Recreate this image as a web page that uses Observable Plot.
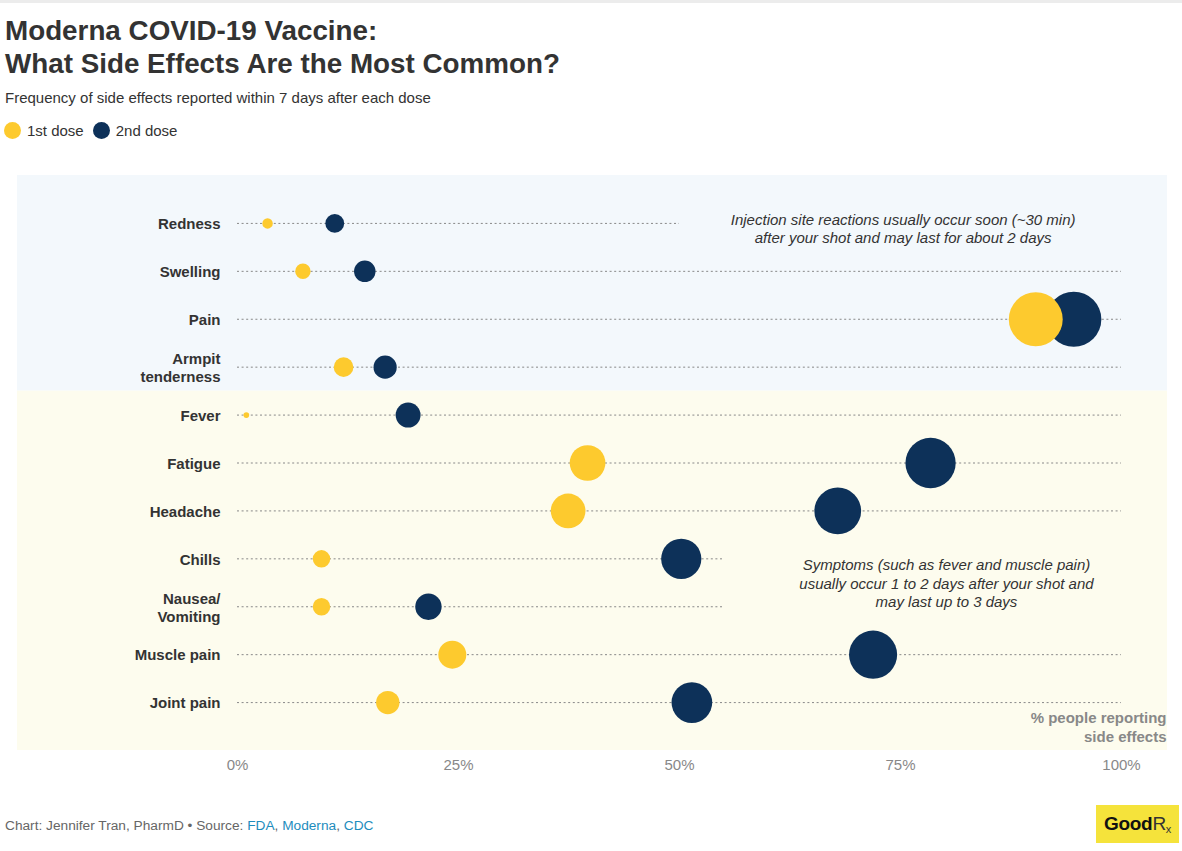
<!DOCTYPE html>
<html><head><meta charset="utf-8">
<script src="https://cdn.jsdelivr.net/npm/d3@7"></script>
<script src="https://cdn.jsdelivr.net/npm/@observablehq/plot@0.6"></script>
<style>
body{margin:0;background:#fff;font-family:"Liberation Sans",Arial,Helvetica,sans-serif;color:#333;}
#wrap{position:relative;width:1182px;height:851px;overflow:hidden;}
#topbar{position:absolute;left:0;top:0;width:1182px;height:3px;background:#ececec;}
#title{position:absolute;left:5px;top:14px;font-size:27.8px;font-weight:bold;line-height:33px;color:#333;white-space:nowrap;}
#sub{position:absolute;left:5px;top:89px;font-size:15px;line-height:18px;color:#333;white-space:nowrap;}
#legend{position:absolute;left:4px;top:121px;height:18px;display:flex;align-items:center;font-size:15px;color:#333;}
#legend .sw{width:17px;height:17px;border-radius:50%;display:inline-block;margin-right:6px;}
#legend .it{display:flex;align-items:center;margin-right:9px;}
#chart{position:absolute;left:0;top:160px;}
#foot{position:absolute;left:5px;top:818px;font-size:13.7px;line-height:16px;color:#666;white-space:nowrap;}
#foot .l{color:#1d8cbd;}
#logo{position:absolute;left:1096px;top:805px;width:83px;height:38px;background:#f5e33b;display:flex;align-items:center;justify-content:center;font-size:19px;font-weight:bold;color:#111;letter-spacing:-0.3px;}
#logo .rx{font-weight:normal;color:#333;}
#logo sub{font-size:11px;vertical-align:-3px;}
</style></head><body>
<div id="wrap">
  <div id="topbar"></div>
  <div id="title">Moderna COVID-19 Vaccine:<br>What Side Effects Are the Most Common?</div>
  <div id="sub">Frequency of side effects reported within 7 days after each dose</div>
  <div id="legend"></div>
  <div id="chart"></div>
  <div id="foot">Chart: Jennifer Tran, PharmD • Source: <span class="l">FDA</span>, <span class="l">Moderna</span>, <span class="l">CDC</span></div>
  <div id="logo">Good<span class="rx">R<sub>x</sub></span></div>
</div>
<script>
// ---- data ----
const names = ["Redness","Swelling","Pain","Armpit tenderness","Fever","Fatigue","Headache","Chills","Nausea/Vomiting","Muscle pain","Joint pain"];
const labels = ["Redness","Swelling","Pain","Armpit\ntenderness","Fever","Fatigue","Headache","Chills","Nausea/\nVomiting","Muscle pain","Joint pain"];
const groups = ["injection","injection","injection","injection","systemic","systemic","systemic","systemic","systemic","systemic","systemic"];
const dose1 = [3.4, 7.4, 90.3, 12.0, 1.0, 39.6, 37.4, 9.5, 9.5, 24.3, 17.0];
const dose2 = [11.0, 14.4, 94.6, 16.7, 19.3, 78.4, 67.9, 50.2, 21.6, 71.9, 51.4];
const lineEnds = [50, 100, 100, 100, 100, 100, 100, 55, 55, 100, 100];
const doses = ["1st dose", "2nd dose"];
const doseColors = ["#fdca2e", "#0d3159"];
const xTicks = [0, 25, 50, 75, 100];
const injectionNote = {text: "Injection site reactions usually occur soon (~30 min)\nafter your shot and may last for about 2 days", x: 75.3, y: "Redness"};
const symptomNote = {text: "Symptoms (such as fever and muscle pain)\nusually occur 1 to 2 days after your shot and\nmay last up to 3 days", x: 80.2, y: "Chills"};
const axisTitle = {text: "% people reporting\nside effects", x: 100, y: "Joint pain"};
const zoneColors = {injection: "#f3f8fc", systemic: "#fdfcee"};

// ---- tables ----
const rows = names.map((n, i) => ({name: n, label: labels[i], group: groups[i], end: lineEnds[i]}));
const points = [];
doses.forEach((d, k) => names.forEach((n, i) => points.push({name: n, dose: d, value: (k === 0 ? dose1 : dose2)[i]})));

// legend
const leg = document.getElementById("legend");
doses.forEach((d, k) => {
  const it = document.createElement("span"); it.className = "it";
  const sw = document.createElement("span"); sw.className = "sw"; sw.style.background = doseColors[k];
  it.appendChild(sw); it.appendChild(document.createTextNode(d)); leg.appendChild(it);
});

// background zones drawn from the y scale
function zones(index, scales, values, dims) {
  const y = scales.y;
  const step = y(names[1]) - y(names[0]);
  const lastInj = groups.lastIndexOf("injection");
  const split = y(names[lastInj]) + step / 2;
  const top = dims.marginTop, bottom = dims.height - dims.marginBottom;
  const g = d3.create("svg:g");
  g.append("rect").attr("x", 17).attr("width", dims.width - 32).attr("y", top).attr("height", split - top).attr("fill", zoneColors.injection);
  g.append("rect").attr("x", 17).attr("width", dims.width - 32).attr("y", split).attr("height", bottom - split).attr("fill", zoneColors.systemic);
  return g.node();
}

const chart = Plot.plot({
  width: 1182,
  height: 630,
  marginLeft: 237,
  marginRight: 61,
  marginTop: 15,
  marginBottom: 40,
  style: {fontFamily: "Liberation Sans, Arial, sans-serif", fontSize: "15px", background: "transparent"},
  x: {domain: [0, 100], axis: null},
  y: {type: "point", domain: names, padding: 1, round: false, axis: null},
  r: {type: "sqrt", domain: [0, 94.6], range: [0, 27.6]},
  color: {domain: doses, range: doseColors},
  marks: [
    zones,
    Plot.ruleY(rows, {y: "name", x1: 0, x2: "end", stroke: "#888", strokeWidth: 1, strokeDasharray: "2,2.6"}),
    Plot.dot(points, {x: "value", y: "name", r: "value", fill: "dose", stroke: null}),
    Plot.text(rows, {x: 0, y: "name", text: "label", dx: -17, textAnchor: "end", fontWeight: "bold", fontSize: 15, fill: "#333", lineHeight: 1.2}),
    Plot.text([injectionNote], {x: "x", y: "y", dy: 4.5, text: "text", fontStyle: "italic", fontSize: 15, fill: "#333", lineHeight: 1.23, textAnchor: "middle"}),
    Plot.text([symptomNote], {x: "x", y: "y", dy: 24, text: "text", fontStyle: "italic", fontSize: 15, fill: "#333", lineHeight: 1.23, textAnchor: "middle"}),
    Plot.text([axisTitle], {x: "x", y: "y", dy: 24, dx: 45, text: "text", textAnchor: "end", fontWeight: "bold", fontSize: 15, fill: "#888", lineHeight: 1.22}),
    Plot.axisX(xTicks, {tickSize: 0, tickPadding: 9, tickFormat: d => d + "%", fontSize: 15, fill: "#888", color: "#888"})
  ]
});
document.getElementById("chart").appendChild(chart);
</script>
</body></html>
